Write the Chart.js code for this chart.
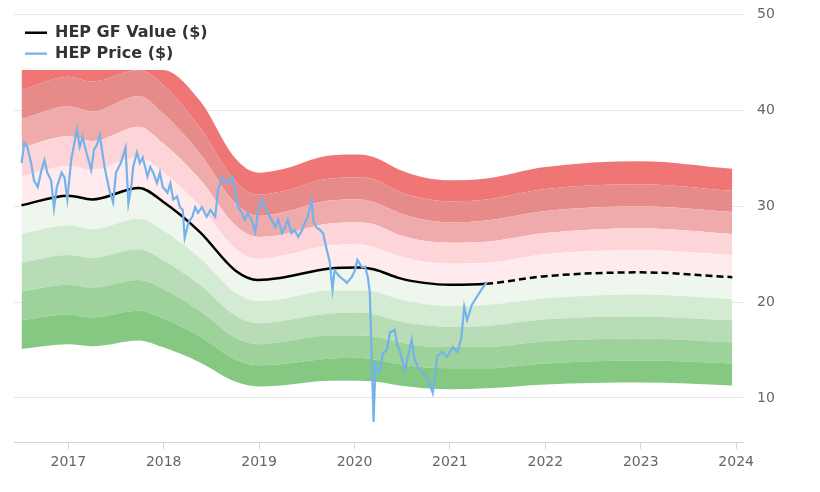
<!DOCTYPE html>
<html>
<head>
<meta charset="utf-8">
<title>HEP GF Value</title>
<script src="https://cdn.jsdelivr.net/npm/chart.js@4.4.1/dist/chart.umd.min.js"></script>
<style>
    body { margin: 0; background: #fff; }
    canvas { display: block; }
</style>
</head>
<body>
<canvas id="chart" width="820" height="492"></canvas>
<script>
// tick labels
const yearTicks = [2017, 2018, 2019, 2020, 2021, 2022, 2023, 2024]
const priceTicks = [10, 20, 30, 40, 50]

// HEP price (decimal year / $)
const priceDates = [
    2016.51, 2016.54, 2016.57, 2016.61, 2016.64, 2016.68, 2016.72, 2016.75, 2016.78, 2016.82,
    2016.85, 2016.88, 2016.93, 2016.96, 2016.99, 2017.03, 2017.09, 2017.12, 2017.15, 2017.19,
    2017.24, 2017.27, 2017.30, 2017.33, 2017.38, 2017.43, 2017.47, 2017.50, 2017.55, 2017.60,
    2017.63, 2017.66, 2017.68, 2017.72, 2017.75, 2017.78, 2017.83, 2017.86, 2017.89, 2017.93,
    2017.96, 2017.99, 2018.04, 2018.07, 2018.10, 2018.14, 2018.17, 2018.20, 2018.22, 2018.26,
    2018.30, 2018.33, 2018.36, 2018.40, 2018.45, 2018.49, 2018.54, 2018.57, 2018.61, 2018.66,
    2018.72, 2018.75, 2018.78, 2018.82, 2018.85, 2018.88, 2018.92, 2018.96, 2018.99, 2019.03,
    2019.06, 2019.09, 2019.13, 2019.17, 2019.20, 2019.24, 2019.27, 2019.30, 2019.34, 2019.37,
    2019.41, 2019.45, 2019.48, 2019.51, 2019.55, 2019.57, 2019.60, 2019.64, 2019.67, 2019.71,
    2019.74, 2019.77, 2019.79, 2019.85, 2019.89, 2019.92, 2019.97, 2020.00, 2020.03, 2020.08,
    2020.11, 2020.14, 2020.16, 2020.18, 2020.20, 2020.22, 2020.24, 2020.26, 2020.30, 2020.34,
    2020.37, 2020.42, 2020.45, 2020.47, 2020.53, 2020.60, 2020.63, 2020.68, 2020.76, 2020.82,
    2020.87, 2020.92, 2020.97, 2021.03, 2021.08, 2021.12, 2021.15, 2021.18, 2021.23, 2021.28,
    2021.33, 2021.39
]
const priceValues = [
    34.5, 36.6, 36.2, 34.5, 32.7, 32.0, 33.8, 34.8, 33.5, 32.7,
    29.8, 32.0, 33.5, 33.0, 30.7, 34.8, 38.0, 36.2, 37.2, 35.6,
    33.8, 35.9, 36.4, 37.4, 34.1, 31.7, 30.4, 33.5, 34.5, 36.1,
    30.3, 32.0, 34.1, 35.6, 34.5, 35.1, 33.1, 34.1, 33.5, 32.4,
    33.5, 32.0, 31.4, 32.4, 30.7, 31.0, 29.9, 29.6, 26.7, 28.3,
    28.9, 29.9, 29.3, 29.9, 28.9, 29.6, 28.9, 31.7, 33.0, 32.4,
    33.1, 31.4, 29.9, 29.3, 28.6, 29.3, 28.6, 27.3, 29.6, 30.7,
    29.9, 29.3, 28.6, 27.8, 28.6, 27.2, 27.8, 28.6, 27.2, 27.5,
    26.8, 27.5, 28.3, 28.9, 30.6, 28.4, 27.8, 27.5, 27.2, 25.4,
    24.2, 21.3, 23.3, 22.6, 22.3, 22.0, 22.6, 23.2, 24.4, 23.6,
    23.7, 22.6, 21.0, 14.5, 7.5, 13.5, 13.1, 12.7, 14.7, 15.0,
    16.8, 17.1, 15.5, 15.0, 12.9, 16.1, 14.0, 12.9, 12.2, 10.5,
    14.4, 14.8, 14.3, 15.3, 14.8, 16.3, 19.5, 18.1, 19.7, 20.5,
    21.3, 22.1
]

// GF Value line and its bands (same dates)
const gfDates = [2016.51, 2017.00, 2017.25, 2017.74, 2017.99, 2018.38, 2018.75, 2018.99, 2019.22, 2019.74,
                 2020.05, 2020.21, 2020.47, 2020.73, 2021.00, 2021.38, 2022.00, 2023.00, 2023.96]
const gfValues = [30.1, 31.1, 30.7, 31.9, 30.5, 27.3, 23.3, 22.3, 22.5, 23.5, 23.6, 23.4, 22.5, 22.0, 21.8, 21.9, 22.7, 23.1, 22.6]
const forecastFrom = 2021.38

const band50 = [15.1, 15.6, 15.4, 16.0, 15.3, 13.7, 11.7, 11.2, 11.3, 11.8, 11.8, 11.7, 11.3, 11.0, 10.9, 11.0, 11.4, 11.6, 11.3]
const band60 = [18.1, 18.7, 18.4, 19.1, 18.3, 16.4, 14.0, 13.4, 13.5, 14.1, 14.2, 14.0, 13.5, 13.2, 13.1, 13.1, 13.6, 13.9, 13.6]
const band70 = [21.1, 21.8, 21.5, 22.3, 21.4, 19.1, 16.3, 15.6, 15.8, 16.5, 16.5, 16.4, 15.8, 15.4, 15.3, 15.3, 15.9, 16.2, 15.8]
const band80 = [24.1, 24.9, 24.6, 25.5, 24.4, 21.8, 18.6, 17.8, 18.0, 18.8, 18.9, 18.7, 18.0, 17.6, 17.4, 17.5, 18.2, 18.5, 18.1]
const band90 = [27.1, 28.0, 27.6, 28.7, 27.5, 24.6, 21.0, 20.1, 20.3, 21.2, 21.2, 21.1, 20.3, 19.8, 19.6, 19.7, 20.4, 20.8, 20.3]
const band110 = [33.1, 34.2, 33.8, 35.1, 33.6, 30.0, 25.6, 24.5, 24.8, 25.9, 26.0, 25.7, 24.8, 24.2, 24.0, 24.1, 25.0, 25.4, 24.9]
const band120 = [36.1, 37.3, 36.8, 38.3, 36.6, 32.8, 28.0, 26.8, 27.0, 28.2, 28.3, 28.1, 27.0, 26.4, 26.2, 26.3, 27.2, 27.7, 27.1]
const band130 = [39.1, 40.4, 39.9, 41.5, 39.7, 35.5, 30.3, 29.0, 29.3, 30.6, 30.7, 30.4, 29.3, 28.6, 28.3, 28.5, 29.5, 30.0, 29.4]
const band140 = [42.1, 43.5, 43.0, 44.2, 42.7, 38.2, 32.6, 31.2, 31.5, 32.9, 33.0, 32.8, 31.5, 30.8, 30.5, 30.7, 31.8, 32.3, 31.6]
const band150 = [44.2, 44.2, 44.2, 44.2, 44.2, 41.0, 35.0, 33.5, 33.8, 35.3, 35.4, 35.1, 33.8, 33.0, 32.7, 32.9, 34.1, 34.7, 33.9]

class App {
    constructor() {
        const ctx = document.getElementById('chart').getContext('2d')
        this.drawChart(ctx)
    }

    points(xs, ys) {
        return xs.map((x, i) => ({ x: x, y: ys[i] }))
    }

    band(values, color, first) {
        return {
            label: 'band',
            data: this.points(gfDates, values),
            borderWidth: 0,
            borderColor: 'rgba(0,0,0,0)',
            backgroundColor: color,
            fill: first ? false : '-1',
            pointRadius: 0,
            cubicInterpolationMode: 'monotone'
        }
    }

    drawChart(ctx) {
        const bands = [
            this.band(band50, null, true),
            this.band(band60, '#84c882'),
            this.band(band70, '#9dd29b'),
            this.band(band80, '#b8ddb6'),
            this.band(band90, '#d4ebd3'),
            this.band(gfValues, '#eef6ee'),
            this.band(band110, '#ffebee'),
            this.band(band120, '#fdd5d9'),
            this.band(band130, '#efabab'),
            this.band(band140, '#e78a8a'),
            this.band(band150, '#f07575')
        ]

        const data = {
            datasets: [{
                label: 'HEP Price ($)',
                data: this.points(priceDates, priceValues),
                borderColor: '#74b2eb',
                backgroundColor: '#74b2eb',
                borderWidth: 2.2,
                pointRadius: 0,
                tension: 0,
                fill: false
            }, {
                label: 'HEP GF Value ($)',
                data: this.points(gfDates, gfValues),
                borderColor: '#000',
                backgroundColor: '#000',
                borderWidth: 2.5,
                pointRadius: 0,
                fill: false,
                cubicInterpolationMode: 'monotone',
                segment: {
                    borderDash: c => c.p0.parsed.x >= forecastFrom ? [7, 4] : undefined
                }
            }, ...bands]
        }

        const placeLegend = {
            id: 'placeLegend',
            afterLayout(chart) {
                const lg = chart.legend
                lg.left = 20
                lg.top = 19.7
                lg.bottom = chart.chartArea.bottom
            }
        }

        const config = {
            type: 'line',
            data: data,
            plugins: [placeLegend],
            options: {
                responsive: false,
                animation: false,
                layout: { padding: { left: 14, top: 14.5, right: 0, bottom: 0 } },
                plugins: {
                    tooltip: { enabled: false },
                    legend: {
                        position: 'chartArea',
                        align: 'start',
                        labels: {
                            filter: item => item.datasetIndex < 2,
                            sort: (a, b) => b.datasetIndex - a.datasetIndex,
                            usePointStyle: true,
                            pointStyle: 'line',
                            pointStyleWidth: 22,
                            padding: 5,
                            color: '#333',
                            font: { family: 'DejaVu Sans', size: 16, weight: 'bold' }
                        }
                    }
                },
                scales: {
                    x: {
                        type: 'linear',
                        min: 2016.431,
                        max: 2024.072,
                        afterBuildTicks: s => { s.ticks = yearTicks.map(v => ({ value: v })) },
                        afterFit: s => { s.height = 50; s.paddingLeft = 0; s.paddingRight = 0 },
                        ticks: {
                            callback: v => String(v),
                            color: '#666',
                            padding: 5,
                            maxRotation: 0,
                            font: { family: 'DejaVu Sans', size: 14 }
                        },
                        grid: { drawOnChartArea: false, drawTicks: true, tickLength: 7, color: '#ccd6eb' },
                        border: { color: '#ccd6eb', width: 1 }
                    },
                    y: {
                        position: 'right',
                        min: 5.4,
                        max: 50,
                        afterBuildTicks: s => { s.ticks = priceTicks.map(v => ({ value: v })) },
                        afterFit: s => { s.width = 77; s.paddingTop = 0; s.paddingBottom = 0 },
                        ticks: {
                            color: '#666',
                            padding: 14,
                            font: { family: 'DejaVu Sans', size: 14 }
                        },
                        grid: { color: '#e6e6e6', drawTicks: false },
                        border: { display: false }
                    }
                }
            }
        }
        this.myChart = new Chart(ctx, config)
    }
}

window.onload = () => new App()
</script>
</body>
</html>
